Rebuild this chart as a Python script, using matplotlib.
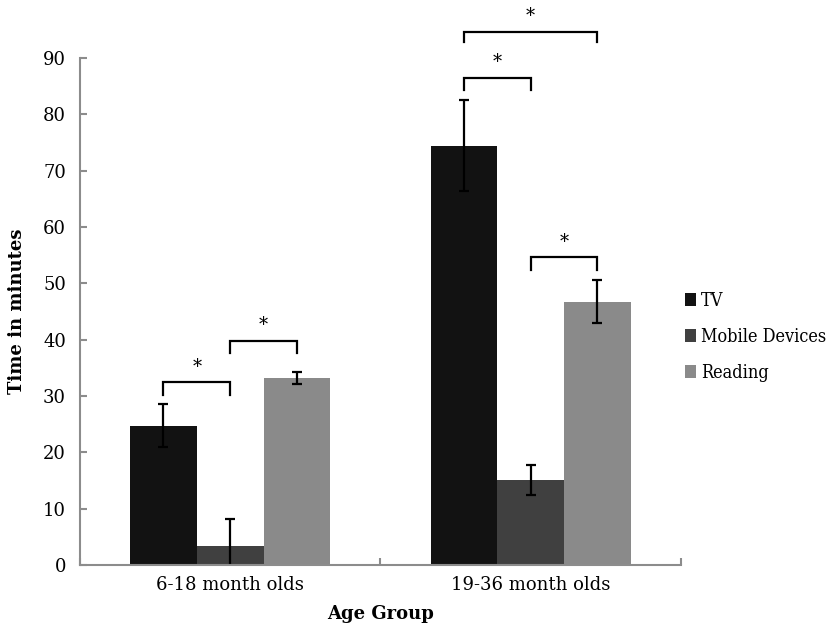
import numpy as np
import matplotlib
matplotlib.use("Agg")
import matplotlib.pyplot as plt
from matplotlib.font_manager import FontProperties

groups = ["6-18 month olds", "19-36 month olds"]
series = ["TV", "Mobile Devices", "Reading"]
colors = ["#121212", "#404040", "#8a8a8a"]

means = [
    [24.7, 74.4],   # TV
    [3.4, 15.1],    # Mobile Devices
    [33.2, 46.7],   # Reading
]
errors = [
    [3.8, 8.1],
    [4.7, 2.7],
    [1.1, 3.8],
]

# significance brackets: (group, bar a, bar b, bracket height, leg bottom)
brackets = [
    (0, 0, 1, 32.4, 30.1),
    (0, 1, 2, 39.8, 37.7),
    (1, 0, 1, 86.4, 84.3),
    (1, 0, 2, 94.6, 92.9),
    (1, 1, 2, 54.6, 52.4),
]

plt.rcParams['font.family'] = ['DejaVu Serif']

fig = plt.figure(figsize=(8.32, 6.3), dpi=100)
ax = fig.add_axes([0.096, 0.1032, 0.7225, 0.8048])

x = np.arange(len(groups))
width = 0.222

for i, name in enumerate(series):
    pos = x + (i - 1) * width
    ax.bar(pos, means[i], width, color=colors[i], label=name)
    ax.errorbar(pos, means[i], yerr=errors[i], fmt='none', ecolor='black',
                elinewidth=1.6, capsize=3.5, capthick=1.6)

for g, a, b, top, leg in brackets:
    xa = x[g] + (a - 1) * width
    xb = x[g] + (b - 1) * width
    ax.plot([xa, xa, xb, xb], [leg, top, top, leg], color='black', lw=1.6,
            clip_on=False, solid_joinstyle='miter')
    ax.text((xa + xb) / 2, top + 1.2, "*", ha='center', va='bottom',
            fontsize=13, clip_on=False)

ax.set_xlim(-0.5, 1.5)
ax.set_ylim(0, 90)
ax.set_yticks(range(0, 91, 10))
ax.set_xticks(x)
ax.set_xticklabels(groups)
ax.set_xticks([-0.5, 0.5, 1.5], minor=True)

for s in ['top', 'right']:
    ax.spines[s].set_visible(False)
for s in ['left', 'bottom']:
    ax.spines[s].set_color('#8c8c8c')
    ax.spines[s].set_linewidth(1.5)

ax.tick_params(axis='y', direction='in', length=5, width=1.5, color='#8c8c8c',
               labelsize=13, pad=10)
ax.tick_params(axis='x', which='major', length=0, labelsize=13, pad=8)
ax.tick_params(axis='x', which='minor', direction='in', length=5, width=1.5,
               color='#8c8c8c')

ax.set_ylabel("Time in minutes", fontsize=13, fontweight='bold', labelpad=12)
ax.set_xlabel("Age Group", fontsize=13, fontweight='bold', labelpad=8)

legend_font = FontProperties(family='DejaVu Serif', stretch='condensed', size=13)
fig.legend(loc='center left', bbox_to_anchor=(0.806, 1 - 337 / 630),
           frameon=False, prop=legend_font, handlelength=0.6, handleheight=0.7,
           handletextpad=0.3, labelspacing=1.0, borderpad=0.3)

fig.savefig("out.png", dpi=100)
